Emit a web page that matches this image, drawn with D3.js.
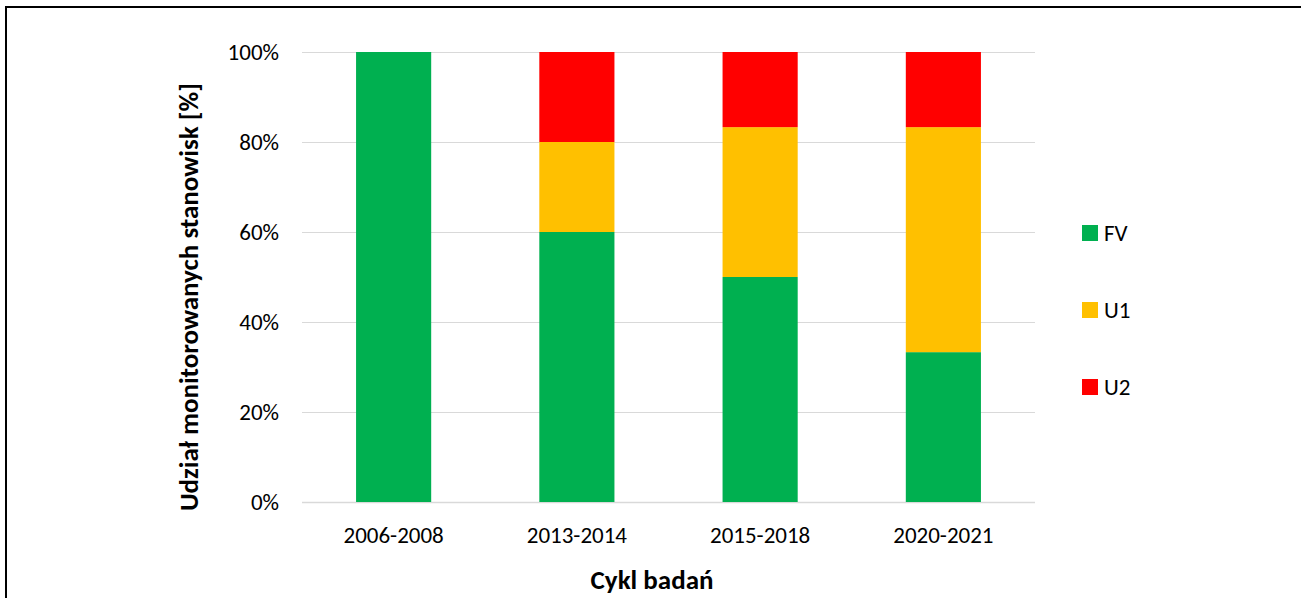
<!DOCTYPE html>
<html>
<head>
<meta charset="utf-8">
<script src="https://cdn.jsdelivr.net/npm/d3@7"></script>
<style>
  html, body { margin: 0; padding: 0; background: #fff; }
  svg { display: block; font-family: Carlito, Lato, "Open Sans", sans-serif; }
</style>
</head>
<body>
<div id="chart"></div>
<script>
// dane
const categories = ["2006-2008", "2013-2014", "2015-2018", "2020-2021"];
const seriesNames = ["FV", "U1", "U2"];
const fvValues = [100, 60, 50, 33.3];
const u1Values = [0, 20, 33.3, 50];
const u2Values = [0, 20, 16.7, 16.7];
const yTicks = [0, 20, 40, 60, 80, 100];
const colors = ["#00B050", "#FFC000", "#FF0000"];

const width = 1301;
const height = 598;
const margin = { left: 302, right: 266, top: 52, bottom: 96 };

const rows = categories.map((c, i) => ({
  cat: c, FV: fvValues[i], U1: u1Values[i], U2: u2Values[i]
}));

const svg = d3.select("#chart").append("svg")
  .attr("width", width)
  .attr("height", height);

// ramka
svg.append("rect")
  .attr("x", 6).attr("y", 7)
  .attr("width", width + 20).attr("height", height + 20)
  .attr("fill", "#fff")
  .attr("stroke", "#000")
  .attr("stroke-width", 2);

const x = d3.scaleBand()
  .domain(categories)
  .range([margin.left, width - margin.right])
  .padding(0);

const y = d3.scaleLinear()
  .domain([0, 100])
  .range([height - margin.bottom, margin.top]);

const barW = x.bandwidth() * 0.41;

// siatka
svg.append("g")
  .selectAll("line")
  .data(yTicks)
  .join("line")
  .attr("x1", margin.left)
  .attr("x2", width - margin.right)
  .attr("y1", d => Math.round(y(d)) + 0.5)
  .attr("y2", d => Math.round(y(d)) + 0.5)
  .attr("stroke", "#D9D9D9")
  .attr("stroke-width", d => d === 0 ? 1.5 : 1.2);

// słupki
const stack = d3.stack().keys(seriesNames)(rows);

svg.append("g")
  .selectAll("g")
  .data(stack)
  .join("g")
  .attr("fill", (d, i) => colors[i])
  .selectAll("rect")
  .data(d => d)
  .join("rect")
  .attr("x", d => x(d.data.cat) + (x.bandwidth() - barW) / 2)
  .attr("y", d => y(d[1]))
  .attr("width", barW)
  .attr("height", d => y(d[0]) - y(d[1]));

// oś Y
svg.append("g")
  .selectAll("text")
  .data(yTicks)
  .join("text")
  .attr("x", 279)
  .attr("y", d => y(d))
  .attr("dy", "0.35em")
  .attr("text-anchor", "end")
  .attr("font-size", 23)
  .attr("fill", "#000")
  .text(d => d + "%");

// oś X
svg.append("g")
  .selectAll("text")
  .data(categories)
  .join("text")
  .attr("x", d => x(d) + x.bandwidth() / 2)
  .attr("y", 535)
  .attr("dy", "0.35em")
  .attr("text-anchor", "middle")
  .attr("font-size", 23)
  .attr("fill", "#000")
  .text(d => d);

// tytuły osi
svg.append("text")
  .attr("x", 652)
  .attr("y", 580)
  .attr("dy", "0.35em")
  .attr("text-anchor", "middle")
  .attr("font-size", 27)
  .attr("font-weight", "bold")
  .text("Cykl badań");

svg.append("text")
  .attr("transform", "translate(189,297) rotate(-90)")
  .attr("dy", "0.35em")
  .attr("text-anchor", "middle")
  .attr("font-size", 27)
  .attr("font-weight", "bold")
  .text("Udział monitorowanych stanowisk [%]");

// legenda
const legend = svg.append("g")
  .selectAll("g")
  .data(seriesNames)
  .join("g")
  .attr("transform", (d, i) => `translate(1082,${233 + i * 77})`);

legend.append("rect")
  .attr("x", 0).attr("y", -8)
  .attr("width", 16).attr("height", 16)
  .attr("fill", (d, i) => colors[i]);

legend.append("text")
  .attr("x", 22)
  .attr("dy", "0.35em")
  .attr("font-size", 23)
  .text(d => d);
</script>
</body>
</html>
